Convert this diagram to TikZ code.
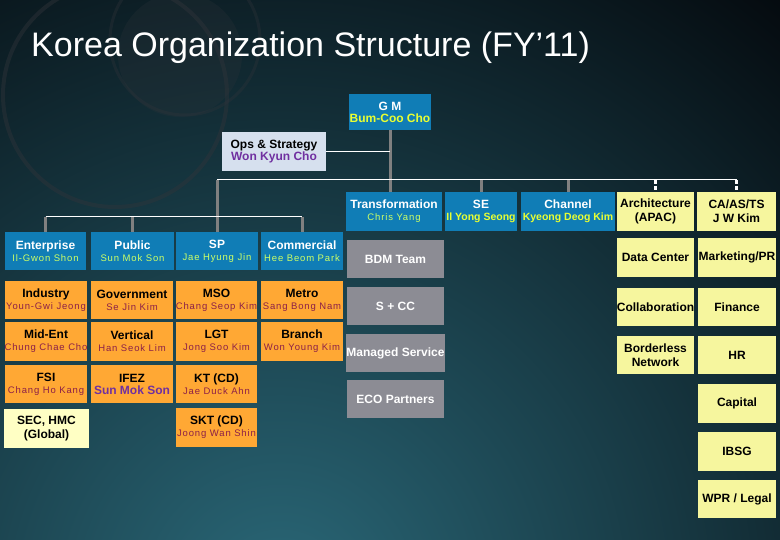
\documentclass[tikz,border=0pt]{standalone}
\usepackage{fontspec}
\setmainfont{Liberation Sans}
\newfontfamily\spacedfont[LetterSpace=9]{Liberation Sans}
\definecolor{bgdark}{RGB}{3,6,10}
\definecolor{bgteal}{RGB}{42,104,120}
\definecolor{cblue}{RGB}{16,125,182}
\definecolor{corange}{RGB}{255,168,52}
\definecolor{cyellow}{RGB}{246,246,158}
\definecolor{cpale}{RGB}{255,255,196}
\definecolor{cgray}{RGB}{140,140,148}
\definecolor{cops}{RGB}{214,224,238}
\definecolor{cpurple}{RGB}{112,48,160}
\definecolor{cmaroon}{RGB}{140,32,72}
\definecolor{cgreen}{RGB}{204,255,102}
\definecolor{cyel}{RGB}{232,255,50}
\definecolor{cline}{RGB}{128,128,128}
\definecolor{cring}{RGB}{48,52,58}
\newcommand\tf{\fontsize{12}{14}\selectfont\bfseries}
\newcommand\nf{\fontsize{9.5}{14}\selectfont\spacedfont}
\newcommand\bnf{\fontsize{10.5}{14}\selectfont\bfseries}
\begin{document}
\begin{tikzpicture}[x=1pt,y=-1pt,
  box/.style={inner sep=0pt, align=center, minimum height=38},
  bluebox/.style={box, fill=cblue, text=white},
  orbox/.style={box, fill=corange, text=black},
  grbox/.style={box, fill=cgray, text=white, font=\fontsize{12}{14}\selectfont\bfseries},
  yebox/.style={box, fill=cyellow, text=black, font=\tf},
  wline/.style={draw=white, line width=1pt},
  gline/.style={draw=cline, line width=3pt},
  dline/.style={draw=white, line width=2.5pt, dash pattern=on 4pt off 2pt}]
\useasboundingbox (0,0) rectangle (780,540);
% background
\fill[bgdark] (0,0) rectangle (780,540);
\begin{scope}
\clip (0,0) rectangle (780,540);
\shade[inner color=bgteal, outer color=bgdark] (280,600) circle (820);
\fill[cring, opacity=0.25] (180,55) circle (62);
\draw[cring, line width=4pt, opacity=0.45] (115,95) circle (112);
\draw[cring, line width=3pt, opacity=0.35] (185,40) circle (75);
\end{scope}
% title
\node[anchor=base west, text=white, inner sep=0pt, font=\fontsize{34}{38}\selectfont] (title) at (31,57) {Korea Organization Structure (FY’11)};
% top
\node[bluebox, minimum width=82, minimum height=36] (gm) at (390,112) {{\tf G M}\\{\tf\color{cyel}Bum-Coo Cho}};
\node[box, fill=cops, minimum width=104, minimum height=39] (ops) at (274,151.5) {{\tf Ops \& Strategy}\\{\tf\color{cpurple}Won Kyun Cho}};
% second-level row
\node[bluebox, minimum width=96, minimum height=39] (trans) at (394,211.5) {{\tf Transformation}\\{\nf\color{cgreen}Chris Yang}};
\node[bluebox, minimum width=72, minimum height=39] (se) at (481,211.5) {{\tf SE}\\{\bnf\color{cyel}Il Yong Seong}};
\node[bluebox, minimum width=94, minimum height=39] (chan) at (568,211.5) {{\tf Channel}\\{\bnf\color{cyel}Kyeong Deog Kim}};
\node[yebox, minimum width=77, minimum height=39] (arch) at (655.5,211.5) {Architecture\\(APAC)};
\node[yebox, minimum width=79, minimum height=39] (ca) at (736.5,211.5) {CA/AS/TS\\J W Kim};
% blue heads
\node[bluebox, minimum width=81] (ent) at (45.5,251) {{\tf Enterprise}\\{\nf\color{cgreen}Il-Gwon Shon}};
\node[bluebox, minimum width=83] (pub) at (132.5,251) {{\tf Public}\\{\nf\color{cgreen}Sun Mok Son}};
\node[bluebox, minimum width=82] (sp) at (217,251) {{\tf SP}\\{\nf\color{cgreen}Jae Hyung Jin}};
\node[bluebox, minimum width=82] (com) at (302,251) {{\tf Commercial}\\{\nf\color{cgreen}Hee Beom Park}};
% orange
\node[orbox, minimum width=82] (ind) at (46,300) {{\tf Industry}\\{\nf\color{cmaroon}Youn-Gwi Jeong}};
\node[orbox, minimum width=82] (gov) at (132,300) {{\tf Government}\\{\nf\color{cmaroon}Se Jin Kim}};
\node[orbox, minimum width=81] (mso) at (216.5,300) {{\tf MSO}\\{\nf\color{cmaroon}Chang Seop Kim}};
\node[orbox, minimum width=82] (metro) at (302,300) {{\tf Metro}\\{\nf\color{cmaroon}Sang Bong Nam}};
\node[orbox, minimum width=82, minimum height=39] (mid) at (46,341.5) {{\tf Mid-Ent}\\{\nf\color{cmaroon}Chung Chae Cho}};
\node[orbox, minimum width=82, minimum height=39] (vert) at (132,341.5) {{\tf Vertical}\\{\nf\color{cmaroon}Han Seok Lim}};
\node[orbox, minimum width=81, minimum height=39] (lgt) at (216.5,341.5) {{\tf LGT}\\{\nf\color{cmaroon}Jong Soo Kim}};
\node[orbox, minimum width=82, minimum height=39] (branch) at (302,341.5) {{\tf Branch}\\{\nf\color{cmaroon}Won Young Kim}};
\node[orbox, minimum width=82] (fsi) at (46,384) {{\tf FSI}\\{\nf\color{cmaroon}Chang Ho Kang}};
\node[orbox, minimum width=82] (ifez) at (132,384) {{\tf IFEZ}\\{\tf\color{cpurple}Sun Mok Son}};
\node[orbox, minimum width=81] (kt) at (216.5,384) {{\tf KT (CD)}\\{\nf\color{cmaroon}Jae Duck Ahn}};
\node[orbox, minimum width=81, minimum height=39] (skt) at (216.5,427.5) {{\tf SKT (CD)}\\{\nf\color{cmaroon}Joong Wan Shin}};
\node[box, fill=cpale, minimum width=85, minimum height=39, font=\tf] (sec) at (46.5,428.5) {SEC, HMC\\(Global)};
% gray
\node[grbox, minimum width=97] (bdm) at (395.5,259) {BDM Team};
\node[grbox, minimum width=97] (scc) at (395.5,306) {S + CC};
\node[grbox, minimum width=97] (ms) at (395.5,353) {Managed Service};
\node[grbox, minimum width=97] (eco) at (395.5,399) {ECO Partners};
% yellow columns
\node[yebox, minimum width=77, minimum height=39] (dc) at (655.5,257.5) {Data Center};
\node[yebox, minimum width=77] (collab) at (655.5,307) {Collaboration};
\node[yebox, minimum width=77] (bn) at (655.5,355) {Borderless\\Network};
\node[yebox, minimum width=78, minimum height=39] (mkt) at (737,257.5) {Marketing/PR};
\node[yebox, minimum width=78] (fin) at (737,307) {Finance};
\node[yebox, minimum width=78] (hr) at (737,355) {HR};
\node[yebox, minimum width=78, minimum height=39] (cap) at (737,403.5) {Capital};
\node[yebox, minimum width=78, minimum height=39] (ibsg) at (737,451.5) {IBSG};
\node[yebox, minimum width=78] (wpr) at (737,499) {WPR / Legal};
% connectors
\coordinate (busA) at (217,180);
\coordinate (busB) at (217,217);
\draw[gline] (gm.south) -- (gm.south |- trans.north);
\draw[wline] (ops.east) -- (ops.east -| gm.south);
\draw[gline] (busA) -- (busB);
\foreach \n in {ent,pub,sp,com} \draw[gline] (busB -| \n.north) -- (\n.north);
\foreach \n in {se,chan} \draw[gline] (busA -| \n.north) -- (\n.north);
\foreach \n in {arch,ca} \draw[dline] (busA -| \n.north) -- (\n.north);
\draw[wline] (busA) -- (busA -| ca.north);
\draw[wline] (busB -| ent.north) -- (busB -| com.north);
\end{tikzpicture}
\end{document}
